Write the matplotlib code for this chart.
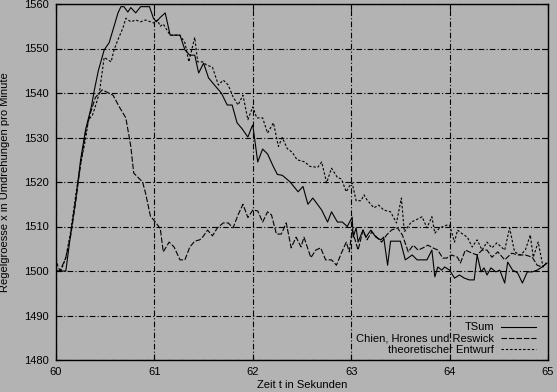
import matplotlib
matplotlib.use("Agg")
import matplotlib.pyplot as plt
import numpy as np

# TSum (solid)
t_tsum = [60.00, 60.10, 60.15, 60.20, 60.25, 60.30, 60.36, 60.39, 60.43, 60.49,
          60.54, 60.59, 60.63, 60.66, 60.69, 60.73, 60.76, 60.81, 60.86, 60.89,
          60.95, 60.99, 61.02, 61.06, 61.11, 61.16, 61.26, 61.31, 61.36, 61.41,
          61.45, 61.50, 61.55, 61.61, 61.68, 61.74, 61.79, 61.84, 61.89, 61.95,
          61.99, 62.00, 62.05, 62.10, 62.15, 62.21, 62.25, 62.30, 62.38, 62.46,
          62.51, 62.56, 62.61, 62.70, 62.76, 62.80, 62.86, 62.91, 62.96, 63.01,
          63.02, 63.05, 63.07, 63.12, 63.15, 63.20, 63.25, 63.30, 63.33, 63.37,
          63.40, 63.50, 63.55, 63.62, 63.67, 63.77, 63.82, 63.85, 63.88, 63.92,
          63.95, 64.00, 64.05, 64.10, 64.15, 64.20, 64.25, 64.28, 64.32, 64.35,
          64.38, 64.42, 64.47, 64.51, 64.56, 64.59, 64.64, 64.69, 64.74, 64.79,
          64.84, 64.89, 64.94, 64.99]
v_tsum = [1500.0, 1500.0, 1508.5, 1516.0, 1525.0, 1531.7, 1537.0, 1540.7, 1545.0, 1549.7,
          1551.3, 1555.0, 1558.0, 1559.4, 1559.4, 1558.2, 1559.2, 1558.0, 1559.4, 1559.4,
          1559.4, 1556.8, 1556.0, 1557.0, 1558.0, 1553.0, 1553.0, 1549.7, 1548.5, 1548.5,
          1544.5, 1546.7, 1543.4, 1541.8, 1540.0, 1537.3, 1537.3, 1533.3, 1532.0, 1530.1,
          1532.4, 1532.8, 1524.5, 1527.4, 1526.3, 1523.4, 1521.7, 1521.5, 1520.0, 1517.8,
          1519.0, 1515.0, 1516.4, 1513.7, 1511.0, 1513.3, 1511.0, 1511.0, 1510.0, 1512.1,
          1507.6, 1509.7, 1506.5, 1509.2, 1507.6, 1509.2, 1507.6, 1507.0, 1507.6, 1501.3,
          1506.7, 1506.7, 1502.5, 1503.6, 1502.5, 1502.5, 1504.7, 1498.7, 1500.9, 1500.2,
          1500.9, 1500.2, 1498.4, 1499.1, 1498.4, 1498.0, 1498.0, 1503.6, 1499.8, 1500.7,
          1499.1, 1500.7, 1499.8, 1500.2, 1497.3, 1502.0, 1500.2, 1499.6, 1497.3, 1499.8,
          1499.8, 1500.2, 1500.9, 1501.8]

# Chien, Hrones und Reswick (long dashes)
t_chr = [60.00, 60.04, 60.10, 60.15, 60.20, 60.25, 60.30, 60.35, 60.40, 60.47,
         60.58, 60.64, 60.71, 60.76, 60.79, 60.88, 60.91, 60.96, 61.01, 61.06,
         61.09, 61.15, 61.20, 61.26, 61.31, 61.36, 61.41, 61.46, 61.49, 61.54,
         61.59, 61.64, 61.70, 61.75, 61.80, 61.85, 61.90, 61.95, 62.00, 62.05,
         62.10, 62.15, 62.19, 62.24, 62.29, 62.34, 62.39, 62.44, 62.49, 62.52,
         62.59, 62.64, 62.69, 62.74, 62.80, 62.85, 62.90, 62.95, 62.98, 63.01,
         63.07, 63.12, 63.16, 63.21, 63.26, 63.31, 63.36, 63.41, 63.47, 63.52,
         63.58, 63.63, 63.68, 63.73, 63.78, 63.83, 63.88, 63.93, 63.97, 64.02,
         64.08, 64.11, 64.16, 64.23, 64.28, 64.33, 64.38, 64.43, 64.49, 64.56,
         64.63, 64.70, 64.77, 64.84, 64.89, 64.94, 64.99]
v_chr = [1502.2, 1500.0, 1503.0, 1508.0, 1515.5, 1524.0, 1531.0, 1535.5, 1539.0, 1540.7,
         1539.5, 1537.0, 1534.4, 1528.0, 1522.0, 1520.0, 1517.5, 1512.3, 1511.0, 1509.5,
         1504.3, 1506.5, 1505.4, 1502.5, 1502.5, 1505.4, 1506.7, 1507.0, 1507.6, 1509.2,
         1507.9, 1509.7, 1510.8, 1510.8, 1509.7, 1512.6, 1515.0, 1512.0, 1513.7, 1513.5,
         1511.0, 1513.3, 1512.6, 1508.3, 1508.3, 1510.8, 1505.2, 1507.6, 1505.4, 1507.6,
         1503.0, 1504.7, 1505.2, 1502.5, 1502.5, 1501.3, 1504.0, 1506.5, 1504.3, 1509.2,
         1504.7, 1509.2, 1507.0, 1508.8, 1507.6, 1506.5, 1508.1, 1509.2, 1509.7, 1508.1,
         1504.3, 1505.8, 1504.7, 1505.2, 1505.8, 1505.2, 1504.7, 1502.9, 1502.9, 1503.6,
         1503.1, 1501.8, 1504.7, 1504.0, 1503.6, 1504.7, 1504.7, 1503.1, 1504.3, 1502.5,
         1504.0, 1503.6, 1503.6, 1503.1, 1501.3, 1500.9, 1501.8]

# theoretischer Entwurf (short dashes)
t_theo = [60.00, 60.05, 60.10, 60.15, 60.20, 60.25, 60.30, 60.33, 60.37, 60.41,
          60.44, 60.49, 60.56, 60.59, 60.63, 60.68, 60.71, 60.76, 60.81, 60.86,
          60.91, 60.96, 61.00, 61.03, 61.06, 61.09, 61.16, 61.26, 61.31, 61.35,
          61.41, 61.44, 61.49, 61.53, 61.59, 61.65, 61.70, 61.75, 61.80, 61.85,
          61.90, 61.95, 62.00, 62.04, 62.10, 62.15, 62.21, 62.26, 62.30, 62.35,
          62.40, 62.45, 62.53, 62.58, 62.66, 62.70, 62.75, 62.80, 62.86, 62.90,
          62.95, 62.98, 63.01, 63.05, 63.10, 63.13, 63.16, 63.23, 63.28, 63.33,
          63.40, 63.46, 63.51, 63.54, 63.61, 63.66, 63.72, 63.77, 63.82, 63.85,
          63.90, 63.97, 64.00, 64.05, 64.08, 64.12, 64.18, 64.23, 64.28, 64.33,
          64.38, 64.43, 64.48, 64.56, 64.61, 64.66, 64.72, 64.77, 64.82, 64.85,
          64.90, 64.95, 64.99]
v_theo = [1500.0, 1500.0, 1503.0, 1509.0, 1517.0, 1524.0, 1529.6, 1534.0, 1535.0, 1537.7,
          1540.0, 1548.0, 1547.0, 1549.7, 1552.0, 1554.6, 1556.8, 1556.0, 1556.4, 1556.0,
          1556.4, 1556.0, 1555.7, 1556.4, 1555.0, 1555.5, 1553.0, 1553.0, 1551.3, 1547.0,
          1552.5, 1547.0, 1547.0, 1546.3, 1545.8, 1541.8, 1542.9, 1541.8, 1539.1, 1537.3,
          1539.5, 1534.0, 1536.9, 1534.4, 1534.4, 1531.0, 1533.3, 1528.0, 1530.0, 1527.5,
          1526.7, 1525.0, 1524.5, 1523.5, 1523.3, 1524.5, 1519.8, 1523.1, 1521.0, 1520.7,
          1517.8, 1519.0, 1519.8, 1515.8, 1515.8, 1517.1, 1516.0, 1514.2, 1514.8, 1513.7,
          1513.3, 1510.8, 1516.4, 1508.8, 1511.0, 1511.5, 1512.2, 1509.7, 1512.2, 1508.5,
          1509.7, 1510.3, 1510.3, 1506.5, 1509.2, 1508.5, 1507.6, 1505.4, 1507.0, 1504.7,
          1506.5, 1505.2, 1506.3, 1504.7, 1509.7, 1504.3, 1503.6, 1504.7, 1508.1, 1503.1,
          1506.5, 1500.9, 1502.0]

x_ticks = [60, 61, 62, 63, 64, 65]
y_ticks = [1480, 1490, 1500, 1510, 1520, 1530, 1540, 1550, 1560]

bg = '#b3b3b3'
plt.rcParams['font.family'] = ['Liberation Sans', 'DejaVu Sans']

fig = plt.figure(figsize=(5.57, 3.92), dpi=100, facecolor=bg)
ax = fig.add_axes([56 / 557, 1 - 360 / 392, 492 / 557, 356 / 392])
ax.set_facecolor(bg)

lw = 0.8
ax.plot(t_tsum, v_tsum, color='black', lw=lw, label='TSum')
ax.plot(t_chr, v_chr, color='black', lw=lw, linestyle=(0, (5, 1.7)),
        label='Chien, Hrones und Reswick')
ax.plot(t_theo, v_theo, color='black', lw=lw, linestyle=(0, (2.2, 1.7)),
        label='theoretischer Entwurf')

ax.set_xlim(60, 65)
ax.set_ylim(1480, 1560)
ax.set_xticks(x_ticks)
ax.set_yticks(y_ticks)
ax.grid(True, color='black', lw=0.8, linestyle=(0, (5, 2, 1, 2)))
ax.tick_params(direction='in', length=4, top=True, right=True, labelsize=8,
               width=0.8, pad=5)
for s in ax.spines.values():
    s.set_linewidth(1.0)

ax.set_xlabel('Zeit t in Sekunden', fontsize=8, labelpad=2)
ax.set_ylabel('Regelgroesse x in Umdrehungen pro Minute', fontsize=8, labelpad=10)

leg = ax.legend(loc='lower right', bbox_to_anchor=(0.99, -0.005), frameon=False,
                markerfirst=False, fontsize=8, handlelength=3.2, handletextpad=0.6,
                labelspacing=0.12, borderaxespad=0.2)
for txt in leg.get_texts():
    txt.set_ha('right')

fig.savefig('out.png', dpi=100, facecolor=bg)
